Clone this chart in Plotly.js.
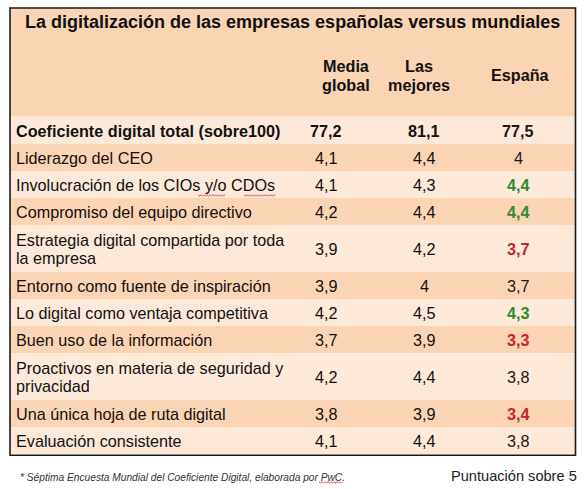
<!DOCTYPE html>
<html><head><meta charset="utf-8">
<script src="https://cdn.plot.ly/plotly-3.0.1.min.js"></script>
<style>html,body{margin:0;padding:0;background:#fff;overflow:hidden}</style>
</head><body>
<div id="chart" style="width:586px;height:489px"></div>
<script>
// ---- data ----
const chartTitle = "La digitalización de las empresas españolas versus mundiales";
const columnHeaders = ["Media<br>global", "Las<br>mejores", "España"];
const categories = [
  "Coeficiente digital total (sobre100)",
  "Liderazgo del CEO",
  "Involucración de los CIOs y/o CDOs",
  "Compromiso del equipo directivo",
  "Estrategia digital compartida por toda<br>la empresa",
  "Entorno como fuente de inspiración",
  "Lo digital como ventaja competitiva",
  "Buen uso de la información",
  "Proactivos en materia de seguridad y<br>privacidad",
  "Una única hoja de ruta digital",
  "Evaluación consistente"
];
const mediaGlobal = [77.2, 4.1, 4.1, 4.2, 3.9, 3.9, 4.2, 3.7, 4.2, 3.8, 4.1];
const lasMejores  = [81.1, 4.4, 4.3, 4.4, 4.2, 4, 4.5, 3.9, 4.4, 3.9, 4.4];
const espana      = [77.5, 4, 4.4, 4.4, 3.7, 3.7, 4.3, 3.3, 3.8, 3.4, 3.8];
const espanaMark  = ["none","none","up","up","down","none","up","down","none","down","none"];
const footnote = "* Séptima Encuesta Mundial del Coeficiente Digital, elaborada por PwC.";
const scaleNote = "Puntuación sobre 5";

// ---- styles / geometry ----
const W = 586, H = 489;
const FONT = "Liberation Sans, Arial, sans-serif";
const BODY = 16.2;
const box = {x0: 10, x1: 575.5, y0: 8, y1: 0};
const headerBottom = 116.7;
const singleH = 27.1, doubleH = 46.8, lineGap = 18;
const headerFill = "#FBD4B4", darkFill = "#FBD4B4", lightFill = "#FDE9D9";
const valueX = [326, 424, 518];
const headerX = [346, 419, 520];
const markColor = {up: "#2F8C2F", down: "#C4262B", none: "#1a1a1a"};
const fmt = v => String(v).replace(".", ",");

const shapes = [];
const annotations = [];
const txt = (x, y, text, size, color, xanchor) => annotations.push({
  xref: "x", yref: "y", x: x, y: y, text: text, showarrow: false,
  xanchor: xanchor || "center", yanchor: "middle", align: xanchor || "center",
  font: {family: FONT, size: size, color: color}});
// spell-check style red wavy underline (decoration seen in the original)
const wavy = (x0, x1, yy) => {
  let d = "M" + x0 + "," + yy;
  for (let x = x0 + 1.5, k = 1; x <= x1; x += 1.5, k++) d += " L" + x + "," + (yy + (k % 2 ? 1 : -0.2));
  shapes.push({type: "path", xref: "x", yref: "y", path: d, line: {color: "#E03030", width: 0.8}, layer: "above"});
};

// header band
shapes.push({type: "rect", xref: "x", yref: "y", x0: box.x0, x1: box.x1, y0: box.y0, y1: headerBottom,
  fillcolor: headerFill, line: {width: 0}, layer: "below"});

txt((box.x0 + box.x1) / 2, 22, "<b>" + chartTitle + "</b>", 18, "#111");
columnHeaders.forEach((h, j) => {
  const parts = h.split("<br>");
  parts.forEach((p, k) => {
    const yy = 75 + (k - (parts.length - 1) / 2) * 19;
    txt(headerX[j], yy, "<b>" + p + "</b>", BODY, "#111");
  });
});

let y = headerBottom;
categories.forEach((cat, i) => {
  const parts = cat.split("<br>");
  const h = parts.length > 1 ? doubleH : singleH;
  const yc = y + h / 2 + 0.5;
  shapes.push({type: "rect", xref: "x", yref: "y", x0: box.x0, x1: box.x1, y0: y, y1: y + h,
    fillcolor: i % 2 === 0 ? lightFill : darkFill, line: {width: 0}, layer: "below"});
  const bold = i === 0;
  const wrap = t => bold ? "<b>" + t + "</b>" : t;
  parts.forEach((p, k) => {
    const yy = yc + (k - (parts.length - 1) / 2) * lineGap;
    txt(14, yy, wrap(p), BODY, "#111", "left");
  });
  [mediaGlobal[i], lasMejores[i]].forEach((v, j) => txt(valueX[j], yc, wrap(fmt(v)), BODY, "#111"));
  const m = espanaMark[i];
  txt(valueX[2], yc, (bold || m !== "none") ? "<b>" + fmt(espana[i]) + "</b>" : fmt(espana[i]),
    BODY, markColor[m]);
  y += h;
});
box.y1 = y + 1;

// outer border
shapes.push({type: "rect", xref: "x", yref: "y", x0: box.x0, x1: box.x1, y0: box.y0, y1: box.y1,
  fillcolor: "rgba(0,0,0,0)", line: {width: 1.6, color: "#1a1a1a"}, layer: "above"});

wavy(198, 226, 195);
wavy(244, 276, 195);
wavy(319, 344, 482);

txt(18, 477, "<i>" + footnote + "</i>", 10.2, "#333", "left");
txt(579, 476, scaleNote, 14.6, "#222", "right");

Plotly.newPlot("chart", [{type: "scatter", x: [], y: [], mode: "markers", hoverinfo: "skip"}], {
  width: W, height: H, margin: {l: 0, r: 0, t: 0, b: 0},
  paper_bgcolor: "#ffffff", plot_bgcolor: "#ffffff", showlegend: false,
  xaxis: {range: [0, W], visible: false, fixedrange: true},
  yaxis: {range: [H, 0], visible: false, fixedrange: true},
  shapes: shapes, annotations: annotations
}, {displayModeBar: false, staticPlot: true});
</script>
</body></html>
